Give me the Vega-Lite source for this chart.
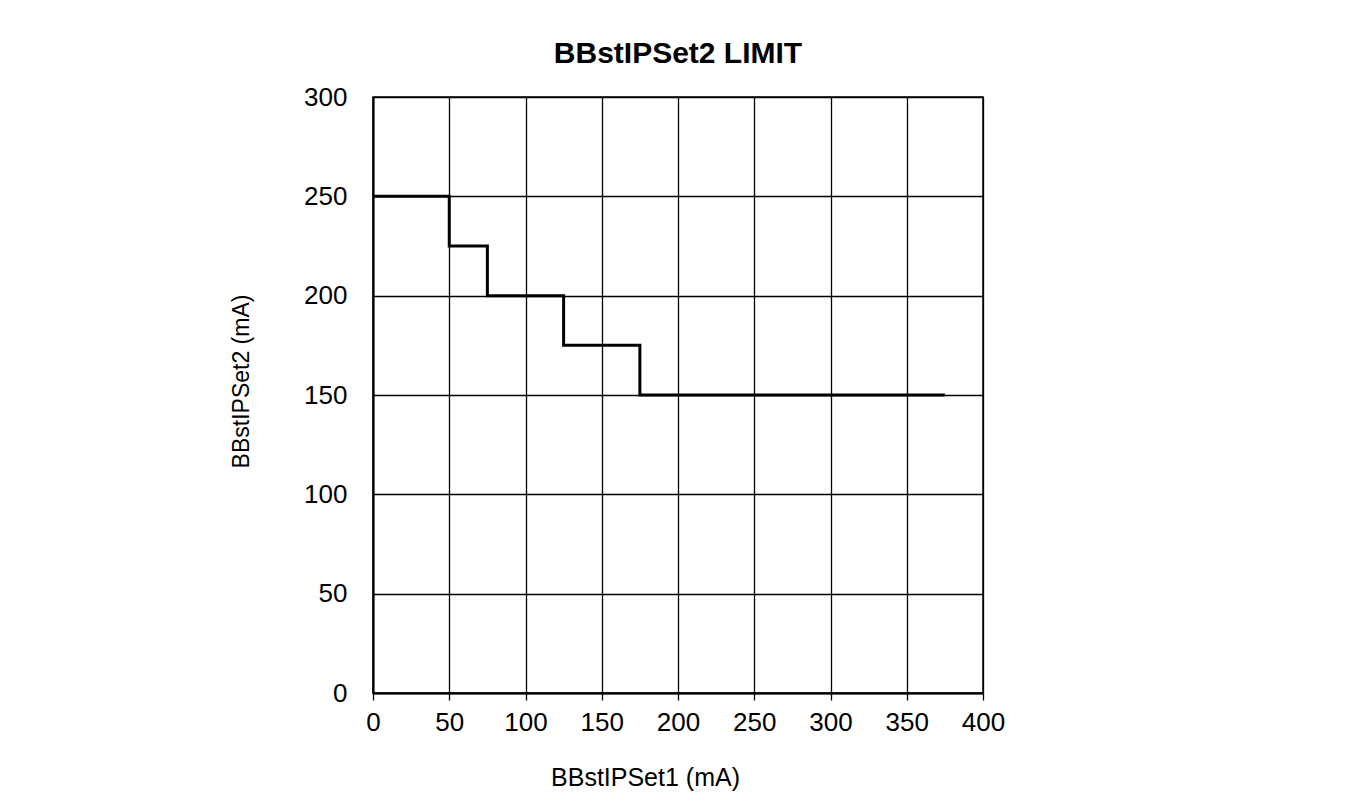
{
  "$schema": "https://vega.github.io/schema/vega-lite/v6.json",
  "autosize": "none",
  "width": 610,
  "height": 596,
  "padding": {"left": 373, "top": 97, "right": 368, "bottom": 116},
  "background": "white",
  "title": {
    "text": "BBstIPSet2 LIMIT",
    "font": "Liberation Sans",
    "fontSize": 30,
    "fontWeight": "bold",
    "color": "black",
    "anchor": "middle",
    "offset": 15
  },
  "data": {
    "values": [
      {"x": 0, "y": 250},
      {"x": 50, "y": 225},
      {"x": 75, "y": 200},
      {"x": 125, "y": 175},
      {"x": 175, "y": 150},
      {"x": 375, "y": 150}
    ]
  },
  "mark": {"type": "line", "interpolate": "step-after", "color": "black", "strokeWidth": 3},
  "encoding": {
    "x": {
      "field": "x", "type": "quantitative",
      "scale": {"domain": [0, 400], "nice": false, "zero": false},
      "axis": {
        "title": "BBstIPSet1 (mA)",
        "values": [0, 50, 100, 150, 200, 250, 300, 350, 400],
        "tickSize": 7,
        "labelFlush": false,
        "labelPadding": 9,
        "titlePadding": 30,
        "titleX": 272
      }
    },
    "y": {
      "field": "y", "type": "quantitative",
      "scale": {"domain": [0, 300], "nice": false, "zero": false},
      "axis": {
        "title": "BBstIPSet2 (mA)",
        "values": [0, 50, 100, 150, 200, 250, 300],
        "ticks": false,
        "labelPadding": 26,
        "titlePadding": 50,
        "titleFontSize": 23,
        "titleY": 284
      }
    }
  },
  "config": {
    "view": {"stroke": "black", "strokeWidth": 1.5},
    "axis": {
      "domainColor": "black",
      "domainWidth": 2,
      "gridColor": "black",
      "gridWidth": 1.3,
      "gridOpacity": 1,
      "tickColor": "black",
      "tickWidth": 1.3,
      "labelFont": "Liberation Sans",
      "labelFontSize": 26,
      "labelColor": "black",
      "titleFont": "Liberation Sans",
      "titleFontSize": 25,
      "titleFontWeight": "normal",
      "titleColor": "black"
    }
  }
}
